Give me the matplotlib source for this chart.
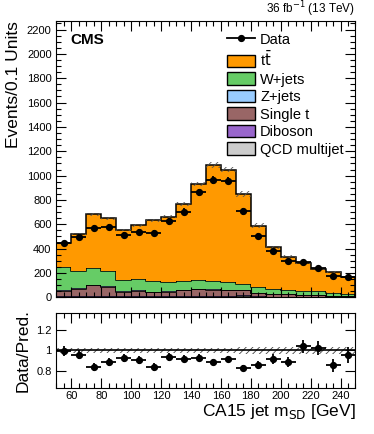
import numpy as np
import matplotlib
matplotlib.use("Agg")
import matplotlib.pyplot as plt
from matplotlib.lines import Line2D
from matplotlib.patches import Patch
from matplotlib.ticker import MultipleLocator, NullLocator

plt.rcParams['font.family'] = ['Liberation Sans', 'DejaVu Sans']
plt.rcParams['hatch.linewidth'] = 0.6

# binning of the soft-drop mass (GeV)
edges = np.arange(50, 251, 10)

# stacked backgrounds, bottom to top
qcd = [3, 2, 4, 3, 2, 2, 1, 2, 3, 2, 2, 3, 12, 3, 2, 1, 1, 1, 1, 1]
diboson = [8, 9, 9, 8, 6, 7, 6, 6, 6, 6, 5, 5, 5, 4, 3, 3, 2, 2, 2, 2]
single_t = [41, 61, 85, 74, 36, 44, 34, 37, 47, 58, 55, 50, 40, 30, 23, 19, 15, 12, 8, 7]
zjets = [5, 5, 5, 4, 4, 4, 3, 3, 3, 3, 3, 3, 3, 2, 2, 2, 2, 1, 1, 1]
wjets = [195, 140, 136, 129, 93, 97, 91, 79, 71, 72, 67, 64, 52, 46, 41, 35, 32, 32, 23, 19]
ttbar = [197, 303, 443, 431, 412, 438, 498, 536, 635, 788, 956, 922, 738, 504, 340, 274, 227, 185, 173, 140]

data = [445, 499, 573, 578, 512, 539, 532, 623, 704, 864, 963, 958, 706, 507, 378, 297, 290, 238, 178, 163]

# relative uncertainty of the prediction
syst = [0.02, 0.02, 0.02, 0.02, 0.02, 0.02, 0.02, 0.02, 0.02, 0.02, 0.02, 0.02, 0.03, 0.03, 0.03, 0.03, 0.03, 0.03, 0.035, 0.035]

names = ['QCD multijet', 'Diboson', 'Single t', 'Z+jets', 'W+jets', r't$\bar{\rm t}$']
comps = [qcd, diboson, single_t, zjets, wjets, ttbar]
colors = ['#cccccc', '#9966cc', '#996666', '#99ccff', '#66cc66', '#ff9900']

fig = plt.figure(figsize=(3.74, 4.34), dpi=100)
ax = fig.add_axes([0.151, 0.315, 0.7995, 0.6365])
rax = fig.add_axes([0.151, 0.106, 0.7995, 0.173])

bottom = np.zeros(len(edges) - 1)
for vals, col in zip(comps, colors):
    top = bottom + np.array(vals)
    ax.stairs(top, edges, baseline=bottom.copy(), fill=True, facecolor=col,
              edgecolor='none')
    ax.stairs(top, edges, color='black', lw=1.1)
    bottom = top
total = bottom

unc = np.array(syst)
ax.stairs(total * (1 + unc), edges, baseline=total * (1 - unc), fill=True,
          facecolor='none', edgecolor='#555555', hatch='/////', lw=0)

centers = 0.5 * (edges[1:] + edges[:-1])
d = np.array(data, dtype=float)
derr = np.sqrt(d)
ax.errorbar(centers, d, xerr=5, yerr=derr, fmt='o', color='black',
            ms=4.2, lw=1.3, capsize=0, zorder=5)

ax.set_xlim(50, 250)
ax.set_ylim(0, 2270)
ax.set_ylabel('Events/0.1 Units', fontsize=12.5, loc='top')
ax.yaxis.set_major_locator(MultipleLocator(200))
ax.yaxis.set_minor_locator(MultipleLocator(50))
ax.xaxis.set_major_locator(MultipleLocator(20))
ax.xaxis.set_minor_locator(MultipleLocator(5))
ax.tick_params(axis='x', labelbottom=False)

for a in (ax, rax):
    a.tick_params(which='both', direction='in', top=True, right=True,
                  labelsize=8, width=0.8)
    a.tick_params(which='major', length=7)
    a.tick_params(which='minor', length=3.5)

ax.text(0.045, 0.955, 'CMS', transform=ax.transAxes, fontsize=11,
        fontweight='bold', va='top', ha='left')
ax.text(1.0, 1.006, r'36 fb$^{-1}$ (13 TeV)', transform=ax.transAxes,
        fontsize=8.5, ha='right', va='bottom')

handles = [Line2D([0], [0], color='black', marker='o', ms=4.2, lw=1.3)]
labels = ['Data']
for vals, col, name in reversed(list(zip(comps, colors, names))):
    handles.append(Patch(facecolor=col, edgecolor='black', lw=1.0))
    labels.append(name)
ax.legend(handles, labels, loc='upper right', bbox_to_anchor=(0.99, 0.99),
          frameon=False, fontsize=10.5, handlelength=1.9, handleheight=0.95,
          labelspacing=0.22, handletextpad=0.35, borderaxespad=0.2)

# ratio panel
ratio = d / total
rerr = derr / total
rax.stairs(1 + unc, edges, baseline=1 - unc, fill=True, facecolor='none',
           edgecolor='#444444', hatch='/////', lw=0)
rax.axhline(1, color='black', lw=1.2)
rax.errorbar(centers, ratio, xerr=5, yerr=rerr, fmt='o', color='black',
             ms=4.2, lw=1.3, capsize=0, zorder=5)
rax.set_xlim(50, 250)
rax.set_ylim(0.64, 1.36)
rax.set_yticks([0.8, 1.0, 1.2])
rax.set_yticklabels(['0.8', '1', '1.2'])
rax.yaxis.set_minor_locator(NullLocator())
rax.xaxis.set_major_locator(MultipleLocator(20))
rax.xaxis.set_minor_locator(MultipleLocator(5))
rax.tick_params(axis='x', which='major', pad=2)
rax.set_ylabel('Data/Pred.', fontsize=12.5)
rax.set_xlabel(r'CA15 jet m$_{\rm SD}$ [GeV]', fontsize=12.5, loc='right',
               labelpad=1)

fig.align_ylabels([ax, rax])
fig.savefig('out.png', dpi=100)
